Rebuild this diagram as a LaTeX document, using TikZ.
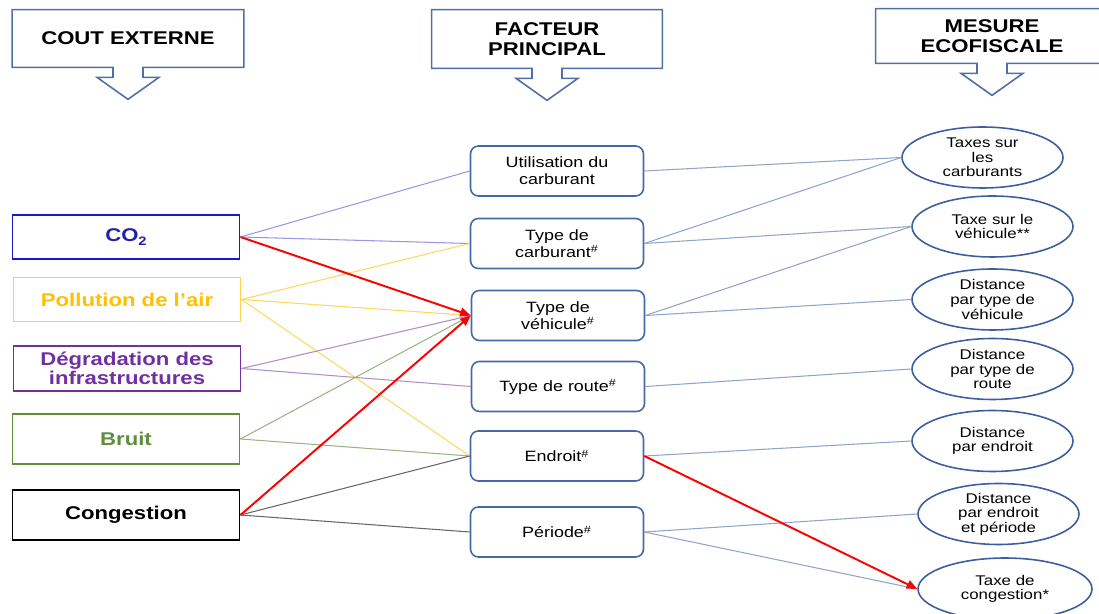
\documentclass[tikz,border=0pt]{standalone}
\usepackage{fontspec}
\setmainfont{Liberation Sans}[FakeStretch=1.2]
\usepackage{tikz}
\usetikzlibrary{positioning,arrows.meta,shapes.geometric,calc}
\definecolor{co2Blue}{HTML}{1818C8}
\definecolor{co2Text}{HTML}{2222A8}
\definecolor{airLine}{HTML}{FFD24D}
\definecolor{airText}{HTML}{FFC000}
\definecolor{infraPurple}{HTML}{7030A0}
\definecolor{noiseGreen}{HTML}{5E8E3E}
\definecolor{factorBlue}{HTML}{4468A8}
\definecolor{measureBlue}{HTML}{3A5E9E}
\definecolor{headBlue}{HTML}{4F6FA8}

\newcommand{\calloutdown}[1]{%
  \draw[headline] ($(#1.south)+(15,0)$) -- (#1.south east) -- (#1.north east)
    -- (#1.north west) -- (#1.south west) -- ($(#1.south)+(-15,0)$)
    -- ++(0,10) -- ++(-16,0) -- ++(31,22) -- ++(31,-22) -- ++(-16,0) -- cycle;}

\begin{document}
\begin{tikzpicture}[
    x=0.02cm, y=-0.02cm,
    head/.style={minimum width=4.62cm, minimum height=1.14cm, inner sep=0pt, align=center,
      font=\bfseries\fontsize{10.5}{11.5}\selectfont},
    headline/.style={draw=headBlue, line width=0.9pt},
    cost/.style={draw, line width=1.1pt, minimum width=4.54cm, minimum height=0.88cm, align=center,
      font=\bfseries\fontsize{10.5}{11}\selectfont},
    factor/.style={draw=factorBlue, line width=0.9pt, rounded corners=4.5pt, minimum width=3.46cm,
      minimum height=1cm, align=center, font=\fontsize{8.5}{9.5}\selectfont},
    measure/.style={ellipse, draw=measureBlue, line width=0.9pt, minimum width=3.22cm,
      minimum height=1.22cm, inner sep=0pt, align=center, font=\fontsize{8}{8.3}\selectfont},
    link/.style={line width=0.6pt},
    co2link/.style={link, draw=co2Blue!45},
    airlink/.style={link, draw=airLine!90},
    infralink/.style={link, draw=infraPurple!55},
    noiselink/.style={link, draw=noiseGreen!65},
    conglink/.style={link, draw=black!60},
    measlink/.style={link, draw=factorBlue!60},
    redarrow/.style={draw=red, line width=1.1pt, -{Triangle[length=6pt,width=5pt]}},
  ]
  \useasboundingbox (0,0) rectangle (1099,614);

  \node[head] (hcout) at (128,38.5) {COUT EXTERNE};
  \node[head, minimum width=4.6cm, minimum height=1.16cm] (hfact) at (547,39) {FACTEUR\\PRINCIPAL};
  \node[head, minimum width=4.64cm, minimum height=1.08cm] (hmes) at (992,36) {MESURE\\ECOFISCALE};
  \calloutdown{hcout}
  \calloutdown{hfact}
  \calloutdown{hmes}

  \node[cost, draw=co2Blue, text=co2Text] (co2) at (126,237) {CO\raisebox{-0.35ex}{\scriptsize 2}};
  \node[cost, draw=airLine, text=airText] (air) at (127,299.5) {Pollution de l’air};
  \node[cost, draw=infraPurple, text=infraPurple] (infra) at (127,368.5) {Dégradation des\\infrastructures};
  \node[cost, draw=noiseGreen, text=noiseGreen, minimum height=1cm] (bruit) at (126,439) {Bruit};
  \node[cost, draw=black, minimum height=1cm] (cong) at (126,515) {Congestion};

  \node[factor] (fuse) at (557,171) {Utilisation du\\carburant};
  \node[factor] (ffuel) at (557,243.5) {Type de\\carburant\textsuperscript{\#}};
  \node[factor] (fveh) at (558,315.5) {Type de\\véhicule\textsuperscript{\#}};
  \node[factor] (froad) at (558,386.5) {Type de route\textsuperscript{\#}};
  \node[factor] (fplace) at (557,456) {Endroit\textsuperscript{\#}};
  \node[factor] (ftime) at (557,532) {Période\textsuperscript{\#}};

  \node[measure] (mfuel) at (982.5,157.5) {Taxes sur\\les\\carburants};
  \node[measure] (mveh) at (992.5,226.5) {Taxe sur le\\véhicule**};
  \node[measure] (mdveh) at (992.5,299.5) {Distance\\par type de\\véhicule};
  \node[measure] (mdroad) at (992.5,369) {Distance\\par type de\\route};
  \node[measure] (mdplace) at (992.5,441) {Distance\\par endroit};
  \node[measure] (mdtime) at (998.5,514) {Distance\\par endroit\\et période};
  \node[measure, minimum width=3.48cm, minimum height=1.24cm] (mcong) at (1005,589) {Taxe de\\congestion*};

  \draw[co2link] (co2.east) -- (fuse.west);
  \draw[co2link] (co2.east) -- (ffuel.west);
  \draw[airlink] (air.east) -- (ffuel.west);
  \draw[airlink] (air.east) -- (fveh.west);
  \draw[airlink] (air.east) -- (fplace.west);
  \draw[infralink] (infra.east) -- (fveh.west);
  \draw[infralink] (infra.east) -- (froad.west);
  \draw[noiselink] (bruit.east) -- (fveh.west);
  \draw[noiselink] (bruit.east) -- (fplace.west);
  \draw[conglink] (cong.east) -- (fplace.west);
  \draw[conglink] (cong.east) -- (ftime.west);

  \draw[measlink] (fuse.east) -- (mfuel.west);
  \draw[measlink] (ffuel.east) -- (mfuel.west);
  \draw[measlink] (ffuel.east) -- (mveh.west);
  \draw[measlink] (fveh.east) -- (mveh.west);
  \draw[measlink] (fveh.east) -- (mdveh.west);
  \draw[measlink] (froad.east) -- (mdroad.west);
  \draw[measlink] (fplace.east) -- (mdplace.west);
  \draw[measlink] (ftime.east) -- (mdtime.west);
  \draw[measlink] (ftime.east) -- (mcong.west);

  \draw[redarrow] (co2.east) -- (fveh.west);
  \draw[redarrow] (cong.east) -- (fveh.west);
  \draw[redarrow] (fplace.east) -- (mcong.west);
\end{tikzpicture}
\end{document}
